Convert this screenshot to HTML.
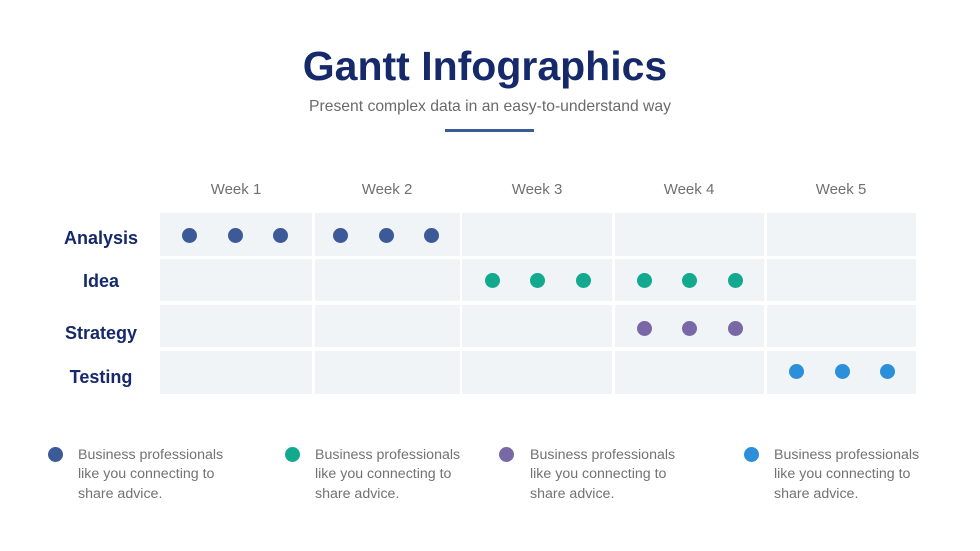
<!DOCTYPE html>
<html><head><meta charset="utf-8"><style>
html,body{margin:0;padding:0;background:#fff;}
body{width:980px;height:551px;position:relative;overflow:hidden;font-family:"Liberation Sans",Arial,sans-serif;}
.a{position:absolute;white-space:nowrap;}
.title{left:-5px;width:980px;text-align:center;top:46px;font-size:41px;line-height:41px;font-weight:bold;color:#15296b;}
.sub{left:0;width:980px;text-align:center;top:99px;font-size:15.7px;line-height:15.7px;color:#6a6a6a;}
.bar{left:445px;top:129px;width:89px;height:3px;background:#3d5a98;}
.wk{top:182px;font-size:15px;line-height:15px;color:#707070;text-align:center;width:150px;}
.rl{left:41px;width:120px;text-align:center;font-size:18px;line-height:18px;font-weight:bold;color:#15296b;}
.cell{position:absolute;background:#f0f4f7;}
.dot{position:absolute;width:15px;height:15px;border-radius:50%;}
.c1{background:#3d5a98}.c2{background:#12a98e}.c3{background:#7869a6}.c4{background:#2b90d9}
.lg{font-size:14.2px;line-height:19.5px;color:#727272;top:445.5px;}
</style></head><body>
<div class="a title">Gantt Infographics</div>
<div class="a sub">Present complex data in an easy-to-understand way</div>
<div class="a bar"></div>

<div class="a wk" style="left:161px">Week 1</div>
<div class="a wk" style="left:312px">Week 2</div>
<div class="a wk" style="left:462px">Week 3</div>
<div class="a wk" style="left:614px">Week 4</div>
<div class="a wk" style="left:766px">Week 5</div>

<div class="a rl" style="top:229px">Analysis</div>
<div class="a rl" style="top:272px">Idea</div>
<div class="a rl" style="top:323.5px">Strategy</div>
<div class="a rl" style="top:368px">Testing</div>

<!-- grid -->
<div class="cell" style="left:160px;top:213px;width:152px;height:43px"></div>
<div class="cell" style="left:314.5px;top:213px;width:145px;height:43px"></div>
<div class="cell" style="left:462px;top:213px;width:149.5px;height:43px"></div>
<div class="cell" style="left:614.5px;top:213px;width:149.5px;height:43px"></div>
<div class="cell" style="left:766.5px;top:213px;width:149.5px;height:43px"></div>

<div class="cell" style="left:160px;top:259px;width:152px;height:42px"></div>
<div class="cell" style="left:314.5px;top:259px;width:145px;height:42px"></div>
<div class="cell" style="left:462px;top:259px;width:149.5px;height:42px"></div>
<div class="cell" style="left:614.5px;top:259px;width:149.5px;height:42px"></div>
<div class="cell" style="left:766.5px;top:259px;width:149.5px;height:42px"></div>

<div class="cell" style="left:160px;top:305px;width:152px;height:42px"></div>
<div class="cell" style="left:314.5px;top:305px;width:145px;height:42px"></div>
<div class="cell" style="left:462px;top:305px;width:149.5px;height:42px"></div>
<div class="cell" style="left:614.5px;top:305px;width:149.5px;height:42px"></div>
<div class="cell" style="left:766.5px;top:305px;width:149.5px;height:42px"></div>

<div class="cell" style="left:160px;top:350.5px;width:152px;height:43px"></div>
<div class="cell" style="left:314.5px;top:350.5px;width:145px;height:43px"></div>
<div class="cell" style="left:462px;top:350.5px;width:149.5px;height:43px"></div>
<div class="cell" style="left:614.5px;top:350.5px;width:149.5px;height:43px"></div>
<div class="cell" style="left:766.5px;top:350.5px;width:149.5px;height:43px"></div>

<!-- dots row 1 -->
<div class="dot c1" style="left:182px;top:228px"></div>
<div class="dot c1" style="left:227.5px;top:228px"></div>
<div class="dot c1" style="left:273px;top:228px"></div>
<div class="dot c1" style="left:333px;top:228px"></div>
<div class="dot c1" style="left:378.5px;top:228px"></div>
<div class="dot c1" style="left:424px;top:228px"></div>
<!-- row 2 -->
<div class="dot c2" style="left:484.5px;top:272.5px"></div>
<div class="dot c2" style="left:530px;top:272.5px"></div>
<div class="dot c2" style="left:575.5px;top:272.5px"></div>
<div class="dot c2" style="left:636.5px;top:272.5px"></div>
<div class="dot c2" style="left:682px;top:272.5px"></div>
<div class="dot c2" style="left:727.5px;top:272.5px"></div>
<!-- row 3 -->
<div class="dot c3" style="left:636.5px;top:320.5px"></div>
<div class="dot c3" style="left:682px;top:320.5px"></div>
<div class="dot c3" style="left:727.5px;top:320.5px"></div>
<!-- row 4 -->
<div class="dot c4" style="left:789px;top:363.5px"></div>
<div class="dot c4" style="left:834.5px;top:363.5px"></div>
<div class="dot c4" style="left:880px;top:363.5px"></div>

<!-- legend -->
<div class="dot c1" style="left:47.5px;top:447px"></div>
<div class="a lg" style="left:78px">Business professionals<br>like you connecting to<br>share advice.</div>
<div class="dot c2" style="left:284.5px;top:447px"></div>
<div class="a lg" style="left:315px">Business professionals<br>like you connecting to<br>share advice.</div>
<div class="dot c3" style="left:498.5px;top:447px"></div>
<div class="a lg" style="left:530px">Business professionals<br>like you connecting to<br>share advice.</div>
<div class="dot c4" style="left:743.5px;top:447px"></div>
<div class="a lg" style="left:774px">Business professionals<br>like you connecting to<br>share advice.</div>
</body></html>
